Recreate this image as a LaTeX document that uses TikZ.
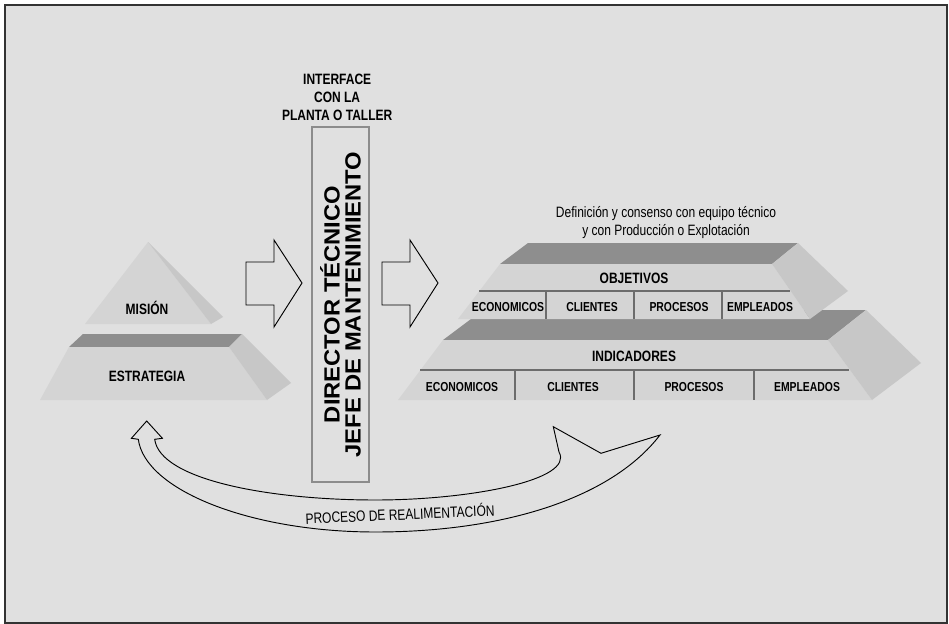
\documentclass[tikz,border=0pt]{standalone}
\usepackage{fontspec}
\usepackage{tikz}
\usetikzlibrary{positioning}
\newfontfamily\NarrowSans[FakeStretch=0.8]{Liberation Sans}
\newfontfamily\WideSans[FakeStretch=1.08]{Liberation Sans}
\definecolor{PaperGray}{HTML}{E0E0E0}
\definecolor{FaceGray}{HTML}{D4D4D4}
\definecolor{SideGray}{HTML}{C7C7C7}
\definecolor{TopGray}{HTML}{8E8E8E}
\definecolor{RuleGray}{HTML}{6C6C6C}
\tikzset{FrameStyle/.style = {
			      draw           = black!80,
			      fill           = PaperGray,
			      line width     = 1.5pt}
						}
\tikzset{FrontStyle/.style = {fill = FaceGray}}
\tikzset{SideStyle/.style  = {fill = SideGray}}
\tikzset{TopStyle/.style   = {fill = TopGray}}
\tikzset{RuleStyle/.style  = {draw = RuleGray, line width = 1.1pt}}
\tikzset{OutlineStyle/.style = {draw = black, line width = 0.7pt, line join = miter}}
\tikzset{BoxStyle/.style = {
			      shape          = rectangle,
			      draw           = black!45,
			      line width     = 0.8pt,
			      inner sep      = 0pt,
			      minimum width  = 42.75pt,
			      minimum height = 266.25pt}
						}
\tikzset{BoxTextStyle/.style = {
				  text           = black,
				  rotate         = 90,
				  align          = center,
				  inner sep      = 0pt,
				  font           = \WideSans\bfseries\fontsize{16.5}{15.75}\selectfont}
					}
\tikzset{LabelStyle/.style =   {
				  text           = black,
				  inner sep      = 0pt,
				  anchor         = base,
				  font           = \NarrowSans\bfseries\fontsize{11.25}{13.5}\selectfont}
					}
\tikzset{CellStyle/.style = {LabelStyle, font = \NarrowSans\bfseries\fontsize{9.75}{11}\selectfont}}
\tikzset{NoteStyle/.style =   {
				  text           = black,
				  inner sep      = 0pt,
				  align          = center,
				  font           = \NarrowSans\fontsize{11.25}{13.5}\selectfont}
					}

\begin{document}
\begin{tikzpicture}[x=0.75pt,y=-0.75pt]
	\useasboundingbox (0,0) rectangle (949,624);
	\draw[FrameStyle] (5,5) rectangle (947,623);

	% left pyramid
	\fill[FrontStyle] (148,242) -- (211,324) -- (85,324) -- cycle;
	\fill[SideStyle]  (148,242) -- (223,317) -- (211,324) -- cycle;
	\fill[TopStyle]   (83,334) -- (242,334) -- (229,347) -- (69,347) -- cycle;
	\fill[FrontStyle] (69,347) -- (229,347) -- (267,400) -- (40,400) -- cycle;
	\fill[SideStyle]  (229,347) -- (242,334) -- (291,383) -- (267,400) -- cycle;
	\draw (147,314) node[LabelStyle] (Mision) {MISIÓN};
	\draw (147,381) node[LabelStyle] (Estrategia) {ESTRATEGIA};

	% block arrows
	\foreach \dx in {0,136}
		\draw[OutlineStyle,xshift=\dx*0.75pt] (246,262) -- (274,262) -- (274,240) -- (302,283)
			-- (274,327) -- (274,305) -- (246,305) -- cycle;

	% director box
	\draw (340.5,304.5) node[BoxStyle] (Director) {};
	\node[BoxTextStyle] (DirectorText) at (Director.center) {DIRECTOR TÉCNICO\\JEFE DE MANTENIMIENTO};
	\node[LabelStyle, anchor=south, align=center, above=4pt of Director, xshift=-2.5pt,
		font=\NarrowSans\bfseries\fontsize{11.25}{13.7}\selectfont] (Interface)
		{INTERFACE\\CON LA\\PLANTA O TALLER};

	% right pyramid, lower block
	\fill[TopStyle]   (483,310) -- (866,310) -- (828,340) -- (443,340) -- cycle;
	\fill[FrontStyle] (443,340) -- (828,340) -- (872,400) -- (398,400) -- cycle;
	\fill[SideStyle]  (828,340) -- (866,310) -- (921,363) -- (872,400) -- cycle;
	\draw[RuleStyle] (420,370) -- (849,370);
	\foreach \x in {515,634,754}
		\draw[RuleStyle] (\x,370) -- (\x,400);
	\draw (634,361) node[LabelStyle] (Indicadores) {INDICADORES};
	\draw (462,391.5) node[CellStyle] (IndEco) {ECONOMICOS};
	\draw (573,391.5) node[CellStyle] (IndCli) {CLIENTES};
	\draw (694,391.5) node[CellStyle] (IndPro) {PROCESOS};
	\draw (807,391.5) node[CellStyle] (IndEmp) {EMPLEADOS};

	% right pyramid, upper block
	\fill[TopStyle]   (528,243) -- (798,243) -- (772,264) -- (500,264) -- cycle;
	\fill[FrontStyle] (500,264) -- (772,264) -- (810,319) -- (458,319) -- cycle;
	\fill[SideStyle]  (772,264) -- (798,243) -- (848,291) -- (810,319) -- cycle;
	\draw[RuleStyle] (479,291) -- (790,291);
	\foreach \x in {546,634,722}
		\draw[RuleStyle] (\x,291) -- (\x,319);
	\draw (634,283.5) node[LabelStyle] (Objetivos) {OBJETIVOS};
	\draw (508,311.5) node[CellStyle] (ObjEco) {ECONOMICOS};
	\draw (592,311.5) node[CellStyle] (ObjCli) {CLIENTES};
	\draw (679,311.5) node[CellStyle] (ObjPro) {PROCESOS};
	\draw (760,311.5) node[CellStyle] (ObjEmp) {EMPLEADOS};

	\draw (666,223) node[NoteStyle] (Definicion)
		{Definición y consenso con equipo técnico\\y con Producción o Explotación};

	% feedback arrow
	\draw[OutlineStyle] (146.7,421) -- (162.4,438.3) -- (154.7,439.3)
		.. controls (160,480) and (270,500) .. (375.5,500)
		.. controls (470,500) and (575,480) .. (559,452)
		-- (553.3,426.7) -- (601,453.3) -- (660,435)
		.. controls (610,500) and (500,532) .. (375.5,532)
		.. controls (250,532) and (145,490) .. (138.3,439.3)
		-- (131.4,438.3) -- cycle;
	\draw (400,513.5) node[NoteStyle, rotate=2.5] (Realimentacion) {PROCESO DE REALIMENTACIÓN};
\end{tikzpicture}
\end{document}
